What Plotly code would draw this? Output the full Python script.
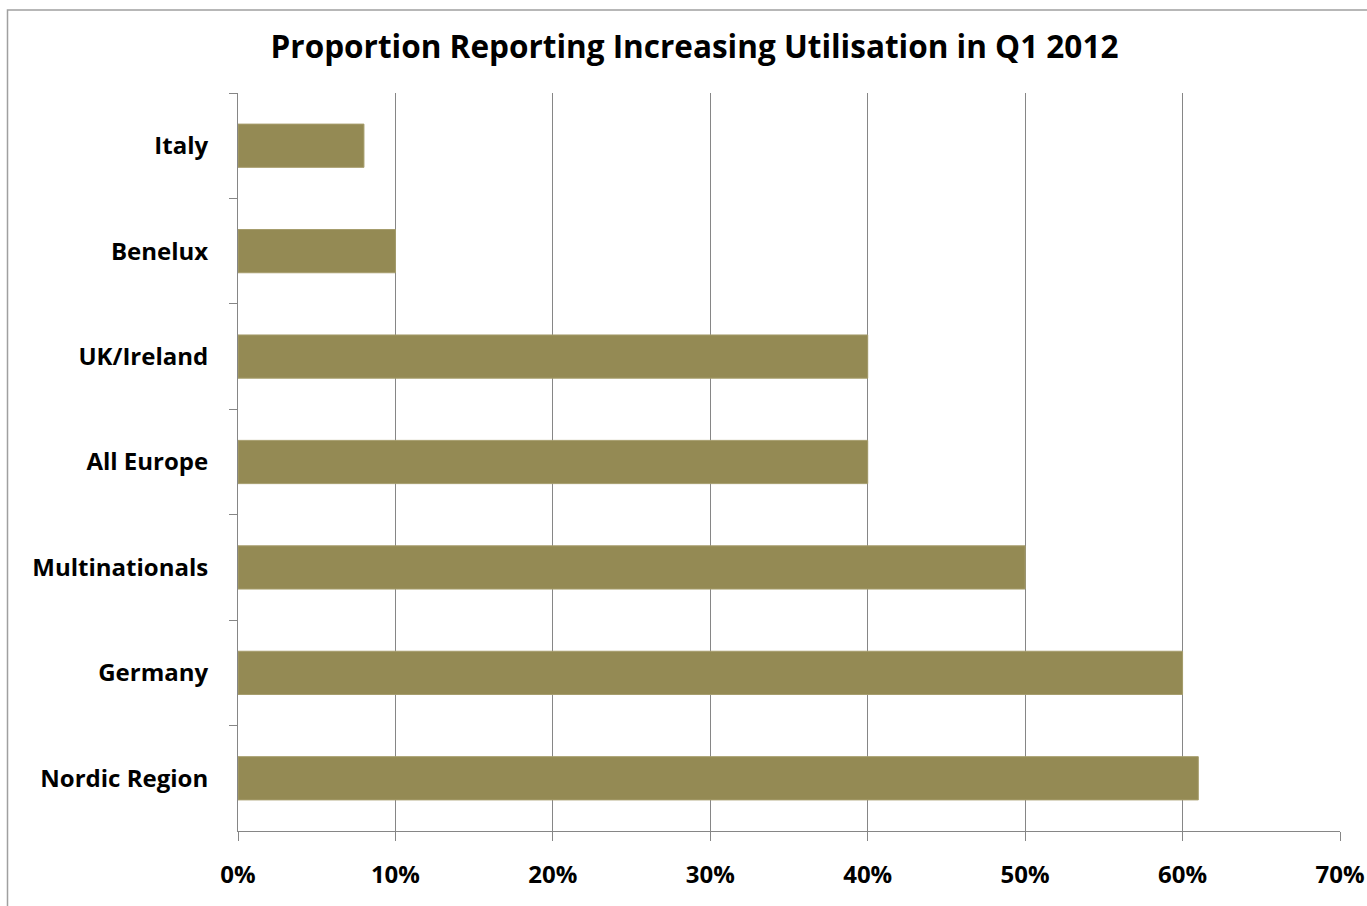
import plotly.graph_objects as go

categories = ["Italy", "Benelux", "UK/Ireland", "All Europe", "Multinationals", "Germany", "Nordic Region"]
values = [0.08, 0.10, 0.40, 0.40, 0.50, 0.60, 0.61]
x_ticks = [0, 0.1, 0.2, 0.3, 0.4, 0.5, 0.6, 0.7]
x_tick_labels = ["0%", "10%", "20%", "30%", "40%", "50%", "60%", "70%"]

W, H = 1367, 906
L, R, T, B = 238, 1367 - 1340, 93, 906 - 831
pw, ph = W - L - R, H - T - B

font_family = "'Open Sans', Lato, sans-serif"
grey = "#868686"

fig = go.Figure()
fig.add_trace(go.Bar(
    y=categories, x=values, orientation="h",
    marker=dict(color="#948A54", line=dict(color="#a69d6c", width=1)),
    width=0.41,
))

def px2paper_x(px):
    return (px - L) / pw

def px2paper_y(py):
    return (H - B - py) / ph

fig.update_layout(
    width=W, height=H,
    margin=dict(l=L, r=R, t=T, b=B, autoexpand=False),
    paper_bgcolor="white", plot_bgcolor="white",
    showlegend=False,
    title=dict(
        text="<b>Proportion Reporting Increasing Utilisation in Q1 2012</b>",
        x=694.5 / W, xref="container", xanchor="center",
        y=1 - 47 / H, yref="container", yanchor="middle",
        font=dict(family=font_family, size=31.5, color="black"),
    ),
    xaxis=dict(
        range=[0, 0.7], tickvals=x_ticks,
        ticktext=["<b>" + t + "</b>" for t in x_tick_labels],
        showgrid=True, gridcolor=grey, gridwidth=1,
        showline=True, linecolor=grey, linewidth=1,
        ticks="outside", ticklen=9, tickcolor=grey,
        tickfont=dict(family=font_family, size=24, color="black"),
        ticklabelstandoff=13,
        ticklabeloverflow="allow",
        automargin=False,
        zeroline=False, fixedrange=True,
    ),
    yaxis=dict(
        autorange="reversed",
        showline=True, linecolor=grey, linewidth=1,
        ticks="outside", ticklen=8, tickcolor=grey, tickson="boundaries",
        showgrid=False,
        tickprefix="<b>", ticksuffix="</b>",
        tickfont=dict(family=font_family, size=24, color="black"),
        ticklabelstandoff=24,
        automargin=False,
        fixedrange=True,
    ),
    shapes=[dict(
        type="rect", xref="paper", yref="paper",
        x0=px2paper_x(7.5), x1=px2paper_x(1420),
        y0=px2paper_y(960), y1=px2paper_y(10),
        line=dict(color="#a0a0a0", width=1.5), fillcolor="rgba(0,0,0,0)",
        layer="below",
    )],
)

fig.write_html(
    "out.html",
    config={"displayModeBar": False},
    post_script="document.body.style.margin='0';document.body.style.overflow='hidden';",
)
